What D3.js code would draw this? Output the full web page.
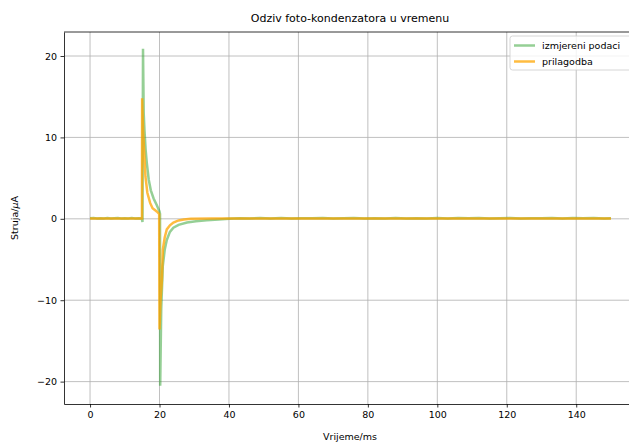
<!DOCTYPE html>
<html>
<meta charset="utf-8">
<title>Odziv foto-kondenzatora</title>
<style>
  body { margin: 0; background: #fff; }
  text { font-family: "DejaVu Sans", sans-serif; fill: #000; }
  .grid line { stroke: #b0b0b0; stroke-width: 0.8; }
  .axis path, .axis line { stroke: #000; stroke-width: 0.8; }
  .axis text { font-size: 9.5px; }
</style>
<body>
<div id="chart"></div>
<script src="https://d3js.org/d3.v7.min.js"></script>
<script>
var measT = [0, 1, 2, 3, 4, 5, 6, 7, 8, 9, 10, 11, 12, 13, 14, 14.9, 15.1,
  15.25, 15.45, 15.67, 16.0, 16.35, 16.9, 17.5, 18.3, 19.2, 20.0, 20.15,
  20.2, 20.5, 20.95, 21.5, 22.1, 23, 24, 25.5, 27.9, 30.5, 33.6, 37, 40,
  43, 46, 49, 52, 55, 58, 61, 64, 67, 70, 73, 76, 79, 82, 85, 88, 91, 94,
  97, 100, 103, 106, 109, 112, 115, 118, 121, 124, 127, 130, 133, 136, 139,
  142, 145, 148, 150];
var measI = [0.06, 0.09, 0.04, 0.08, 0.05, 0.1, 0.03, 0.07, 0.09, 0.04, 0.08, 0.05, 0.1, 0.04, 0.07, 0.05, -0.4,
  20.9, 13.0, 10.9, 8.5, 6.85, 4.8, 3.5, 2.5, 1.7, 0.9, 0.6,
  -20.5, -11.0, -5.8, -3.8, -2.6, -1.6, -1.1, -0.75, -0.45, -0.3, -0.18, -0.08, 0.02,
  0.07, 0.03, 0.09, 0.05, 0.1, 0.03, 0.08, 0.06, 0.1, 0.04, 0.07, 0.09, 0.03, 0.08, 0.05, 0.1, 0.04, 0.08,
  0.05, 0.1, 0.03, 0.09, 0.06, 0.1, 0.04, 0.08, 0.09, 0.04, 0.08, 0.06, 0.1, 0.04, 0.09,
  0.06, 0.1, 0.05, 0.08];

// fitted curve
var fitT = [0, 5, 10, 14.95, 15.0, 15.3, 15.6, 15.95, 16.5, 17.3, 18.0, 19.2, 19.9,
  20.0, 20.3, 20.7, 20.95, 21.5, 22.1, 23, 24, 25.5, 27, 29, 35, 50, 75, 100, 125, 150];
var fitI = [0.05, 0.05, 0.05, 0.05, 14.8, 10.5, 8.1, 5.2, 3.2, 1.95, 1.3, 0.9, 0.6,
  -13.6, -10.0, -7.5, -3.8, -2.3, -1.3, -0.8, -0.45, -0.2, -0.08, 0.0, 0.04, 0.05, 0.05, 0.05, 0.05, 0.05];

var xTicks = [0, 20, 40, 60, 80, 100, 120, 140];
var yTicks = [-20, -10, 0, 10, 20];

var W = 629, H = 444;
var margin = {top: 32, right: -8, bottom: 40, left: 64};

var svg = d3.select("#chart").append("svg")
    .attr("width", W)
    .attr("height", H);

var x = d3.scaleLinear().domain([-7.5, 157.5]).range([margin.left, W - margin.right]);
var y = d3.scaleLinear().domain([-22.75, 22.95]).range([H - margin.bottom, margin.top]);

svg.append("clipPath").attr("id", "clip")
  .append("rect")
    .attr("x", x.range()[0]).attr("y", margin.top)
    .attr("width", x.range()[1] - x.range()[0])
    .attr("height", y.range()[0] - y.range()[1]);

// grid
var grid = svg.append("g").attr("class", "grid");
grid.selectAll(".gx").data(xTicks).enter().append("line")
    .attr("x1", d => x(d)).attr("x2", d => x(d))
    .attr("y1", y.range()[0]).attr("y2", y.range()[1]);
grid.selectAll(".gy").data(yTicks).enter().append("line")
    .attr("x1", x.range()[0]).attr("x2", x.range()[1])
    .attr("y1", d => y(d)).attr("y2", d => y(d));

var line = d3.line().x(d => x(d[0])).y(d => y(d[1]));
var plot = svg.append("g").attr("clip-path", "url(#clip)");

plot.append("path")
    .datum(d3.zip(measT, measI))
    .attr("d", line)
    .attr("fill", "none")
    .attr("stroke", "#2ca02c")
    .attr("stroke-opacity", 0.5)
    .attr("stroke-width", 2.5);

plot.append("path")
    .datum(d3.zip(fitT, fitI))
    .attr("d", line)
    .attr("fill", "none")
    .attr("stroke", "#ffa500")
    .attr("stroke-opacity", 0.75)
    .attr("stroke-width", 2.5);

// axes
var fmt = d => d < 0 ? "\u2212" + Math.abs(d) : String(d);
svg.append("g").attr("class", "axis")
    .attr("transform", "translate(0," + y.range()[0] + ")")
    .call(d3.axisBottom(x).tickValues(xTicks).tickFormat(fmt).tickSize(3.5).tickPadding(3.5).tickSizeOuter(0));
svg.append("g").attr("class", "axis")
    .attr("transform", "translate(" + x.range()[0] + ",0)")
    .call(d3.axisLeft(y).tickValues(yTicks).tickFormat(fmt).tickSize(3.5).tickPadding(3.5).tickSizeOuter(0));
svg.append("line")
    .attr("x1", x.range()[0]).attr("x2", x.range()[1])
    .attr("y1", margin.top).attr("y2", margin.top)
    .attr("stroke", "#000").attr("stroke-width", 0.8);
svg.selectAll(".axis text").attr("font-family", null);

// labels
svg.append("text")
    .attr("x", 350).attr("y", 22)
    .attr("text-anchor", "middle")
    .attr("font-size", "11px")
    .text("Odziv foto-kondenzatora u vremenu");
svg.append("text")
    .attr("x", 350).attr("y", 440)
    .attr("text-anchor", "middle")
    .attr("font-size", "9.5px")
    .text("Vrijeme/ms");
var yl = svg.append("text")
    .attr("transform", "translate(18,218) rotate(-90)")
    .attr("text-anchor", "middle")
    .attr("font-size", "9.5px");
yl.append("tspan").text("Struja/");
yl.append("tspan").attr("font-style", "italic").text("\u03bc");
yl.append("tspan").text("A");

// legend
var names = ["izmjereni podaci", "prilagodba"];
var colors = ["#2ca02c", "#ffa500"];
var opac = [0.5, 0.75];
var lg = svg.append("g").attr("transform", "translate(510,36)");
lg.append("rect")
    .attr("width", 130).attr("height", 34)
    .attr("rx", 2.5)
    .attr("fill", "#fff").attr("fill-opacity", 0.8)
    .attr("stroke", "#ccc").attr("stroke-width", 0.8);
names.forEach(function(n, i) {
    var g = lg.append("g").attr("transform", "translate(0," + (9.5 + i * 16) + ")");
    g.append("line").attr("x1", 4).attr("x2", 25)
        .attr("stroke", colors[i]).attr("stroke-opacity", opac[i]).attr("stroke-width", 2.5);
    g.append("text").attr("x", 32).attr("y", 3.5).attr("font-size", "9.5px").text(n);
});
</script>
</body>
</html>
